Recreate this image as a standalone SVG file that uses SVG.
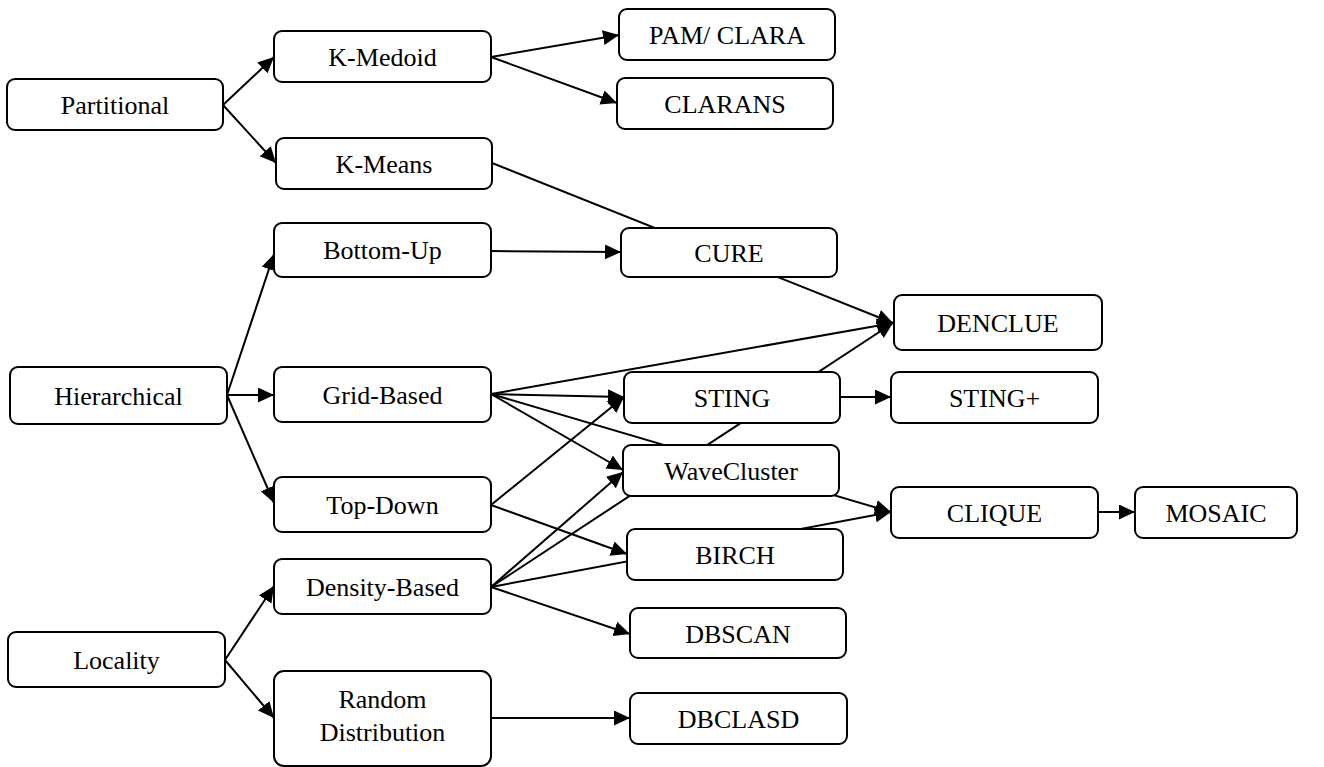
<svg xmlns="http://www.w3.org/2000/svg" width="1324" height="767" viewBox="0 0 1324 767">
<style>
.n rect{fill:#fff;stroke:#000;stroke-width:2}
.n text{font-family:"Liberation Serif","Times New Roman",serif;font-size:26px;fill:#000;text-anchor:middle}
#connectors line{stroke:#000;stroke-width:2;fill:none}
</style>
<defs>
<marker id="ah" markerUnits="userSpaceOnUse" markerWidth="17" markerHeight="16" refX="16" refY="7.5" orient="auto">
<path d="M0,0 L16,7.5 L0,15 z" fill="#000"/>
</marker>
</defs>
<rect width="1324" height="767" fill="#fff"/>
<g id="connectors">
<line x1="223" y1="105" x2="274" y2="57" marker-end="url(#ah)"/>
<line x1="223" y1="105" x2="276" y2="163" marker-end="url(#ah)"/>
<line x1="491" y1="57" x2="619" y2="35" marker-end="url(#ah)"/>
<line x1="491" y1="57" x2="617" y2="103" marker-end="url(#ah)"/>
<line x1="492" y1="163" x2="893" y2="323" marker-end="url(#ah)"/>
<line x1="491" y1="251" x2="621" y2="252" marker-end="url(#ah)"/>
<line x1="227" y1="395" x2="274" y2="254" marker-end="url(#ah)"/>
<line x1="227" y1="395" x2="274" y2="395" marker-end="url(#ah)"/>
<line x1="227" y1="395" x2="274" y2="503" marker-end="url(#ah)"/>
<line x1="225" y1="660" x2="274" y2="586" marker-end="url(#ah)"/>
<line x1="225" y1="660" x2="274" y2="718" marker-end="url(#ah)"/>
<line x1="491" y1="394" x2="893" y2="323" marker-end="url(#ah)"/>
<line x1="491" y1="394" x2="624" y2="397" marker-end="url(#ah)"/>
<line x1="491" y1="394" x2="623" y2="470" marker-end="url(#ah)"/>
<line x1="491" y1="394" x2="891" y2="512" marker-end="url(#ah)"/>
<line x1="491" y1="505" x2="624" y2="397" marker-end="url(#ah)"/>
<line x1="491" y1="505" x2="627" y2="554" marker-end="url(#ah)"/>
<line x1="491" y1="587" x2="623" y2="472" marker-end="url(#ah)"/>
<line x1="491" y1="587" x2="893" y2="323" marker-end="url(#ah)"/>
<line x1="491" y1="587" x2="891" y2="512" marker-end="url(#ah)"/>
<line x1="491" y1="587" x2="630" y2="634" marker-end="url(#ah)"/>
<line x1="491" y1="718" x2="630" y2="718" marker-end="url(#ah)"/>
<line x1="840" y1="397" x2="891" y2="397" marker-end="url(#ah)"/>
<line x1="1098" y1="512" x2="1135" y2="512" marker-end="url(#ah)"/>
</g>
<g id="partitional" class="n"><rect x="7" y="79" width="216" height="51" rx="8"/><text x="115" y="114">Partitional</text></g>
<g id="kmedoid" class="n"><rect x="274" y="31" width="217" height="51" rx="8"/><text x="382.5" y="66">K-Medoid</text></g>
<g id="kmeans" class="n"><rect x="276" y="138" width="216" height="51" rx="8"/><text x="384" y="173">K-Means</text></g>
<g id="bottomup" class="n"><rect x="274" y="223" width="217" height="54" rx="8"/><text x="382.5" y="259">Bottom-Up</text></g>
<g id="hierarchical" class="n"><rect x="10" y="367" width="217" height="57" rx="8"/><text x="118.5" y="405">Hierarchical</text></g>
<g id="gridbased" class="n"><rect x="274" y="367" width="217" height="55" rx="8"/><text x="382.5" y="404">Grid-Based</text></g>
<g id="topdown" class="n"><rect x="274" y="477" width="217" height="55" rx="8"/><text x="382.5" y="514">Top-Down</text></g>
<g id="densitybased" class="n"><rect x="274" y="559" width="217" height="55" rx="8"/><text x="382.5" y="596">Density-Based</text></g>
<g id="randomdistribution" class="n"><rect x="274" y="671" width="217" height="95" rx="10"/><text x="382.5" y="708">Random</text><text x="382.5" y="741">Distribution</text></g>
<g id="locality" class="n"><rect x="8" y="632" width="217" height="55" rx="8"/><text x="116.5" y="669">Locality</text></g>
<g id="pamclara" class="n"><rect x="619" y="9" width="216" height="51" rx="8"/><text x="727" y="44">PAM/ CLARA</text></g>
<g id="clarans" class="n"><rect x="617" y="78" width="216" height="51" rx="8"/><text x="725" y="113">CLARANS</text></g>
<g id="cure" class="n"><rect x="621" y="228" width="216" height="49" rx="8"/><text x="729" y="262">CURE</text></g>
<g id="sting" class="n"><rect x="624" y="372" width="216" height="51" rx="8"/><text x="732" y="407">STING</text></g>
<g id="wavecluster" class="n"><rect x="623" y="445" width="216" height="51" rx="8"/><text x="731" y="480">WaveCluster</text></g>
<g id="birch" class="n"><rect x="627" y="529" width="216" height="51" rx="8"/><text x="735" y="564">BIRCH</text></g>
<g id="dbscan" class="n"><rect x="630" y="608" width="216" height="50" rx="8"/><text x="738" y="643">DBSCAN</text></g>
<g id="dbclasd" class="n"><rect x="630" y="693" width="217" height="51" rx="8"/><text x="738.5" y="728">DBCLASD</text></g>
<g id="denclue" class="n"><rect x="894" y="295" width="208" height="55" rx="8"/><text x="998" y="332">DENCLUE</text></g>
<g id="stingplus" class="n"><rect x="891" y="372" width="207" height="51" rx="8"/><text x="994.5" y="407">STING+</text></g>
<g id="clique" class="n"><rect x="891" y="487" width="207" height="51" rx="8"/><text x="994.5" y="522">CLIQUE</text></g>
<g id="mosaic" class="n"><rect x="1135" y="487" width="162" height="51" rx="8"/><text x="1216" y="522">MOSAIC</text></g>
</svg>
